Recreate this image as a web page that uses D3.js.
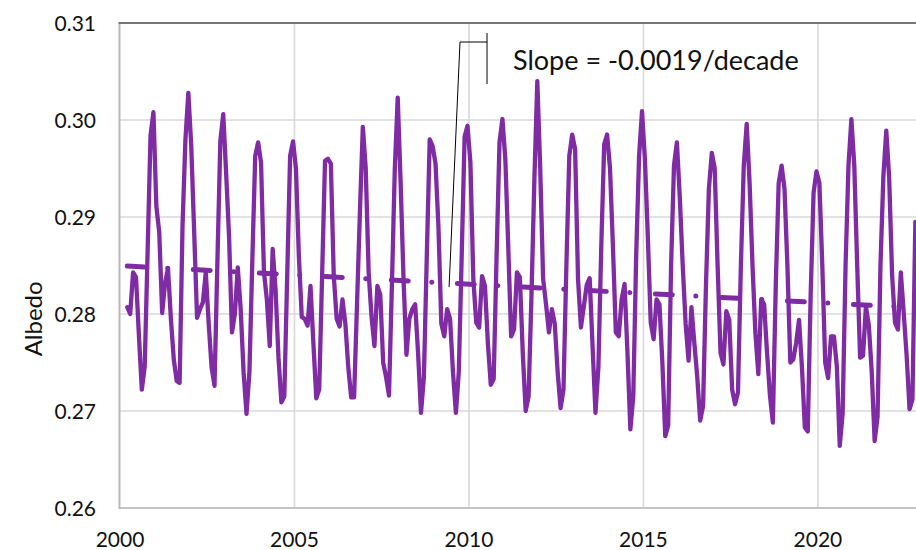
<!DOCTYPE html>
<html>
<head>
<meta charset="utf-8">
<script src="https://cdn.jsdelivr.net/npm/d3@7"></script>
<style>
  body { margin: 0; background: #fff; }
  text { font-family: Lato, "Open Sans", sans-serif; fill: #111; }
</style>
</head>
<body>
<svg id="svg" width="916" height="550"></svg>
<script>
// monthly albedo, starting March 2000 (mid-month dates)
var firstYear = 2000, firstMonth = 3;
var albedo = [
  // 2000 (Mar-Dec)
  .2807, .2800, .2843, .2838, .2778, .2722, .2746, .2865, .2984, .3008,
  // 2001
  .2911, .2884, .2801, .2832, .2847, .2795, .2753, .2731, .2729, .2891, .2980, .3028,
  // 2002
  .2973, .2885, .2796, .2805, .2812, .2843, .2790, .2745, .2726, .2855, .2978, .3006,
  // 2003
  .2945, .2880, .2781, .2800, .2848, .2805, .2740, .2697, .2740, .2855, .2963, .2977,
  // 2004
  .2956, .2843, .2815, .2767, .2867, .2825, .2755, .2709, .2715, .2840, .2963, .2978,
  // 2005
  .2950, .2860, .2797, .2795, .2788, .2829, .2770, .2713, .2722, .2840, .2958, .2960,
  // 2006
  .2955, .2840, .2795, .2787, .2815, .2790, .2745, .2714, .2714, .2810, .2905, .2993,
  // 2007
  .2950, .2843, .2797, .2767, .2829, .2820, .2750, .2735, .2716, .2830, .2950, .3023,
  // 2008
  .2935, .2836, .2758, .2795, .2805, .2810, .2760, .2698, .2735, .2860, .2980, .2973,
  // 2009
  .2955, .2890, .2790, .2777, .2805, .2795, .2740, .2698, .2740, .2860, .2983, .2994,
  // 2010
  .2956, .2836, .2791, .2786, .2839, .2829, .2770, .2727, .2733, .2860, .2977, .3001,
  // 2011
  .2960, .2870, .2777, .2784, .2843, .2838, .2760, .2700, .2715, .2820, .2939, .3040,
  // 2012
  .2950, .2836, .2810, .2781, .2805, .2790, .2740, .2703, .2722, .2850, .2963, .2985,
  // 2013
  .2970, .2836, .2786, .2808, .2830, .2837, .2767, .2698, .2745, .2870, .2975, .2985,
  // 2014
  .2950, .2870, .2781, .2777, .2815, .2831, .2760, .2681, .2715, .2860, .2963, .3009,
  // 2015
  .2960, .2880, .2791, .2774, .2815, .2810, .2750, .2674, .2685, .2850, .2953, .2977,
  // 2016
  .2920, .2850, .2790, .2752, .2807, .2770, .2735, .2690, .2705, .2830, .2929, .2966,
  // 2017
  .2950, .2850, .2760, .2748, .2803, .2794, .2722, .2707, .2719, .2850, .2953, .2996,
  // 2018
  .2935, .2850, .2780, .2738, .2815, .2810, .2760, .2716, .2688, .2830, .2935, .2953,
  // 2019
  .2929, .2850, .2750, .2753, .2770, .2794, .2745, .2683, .2679, .2820, .2925, .2947,
  // 2020
  .2935, .2850, .2750, .2734, .2777, .2777, .2746, .2664, .2698, .2850, .2953, .3001,
  // 2021
  .2953, .2850, .2755, .2757, .2808, .2788, .2740, .2669, .2694, .2850, .2942, .2989,
  // 2022 (Jan-Oct)
  .2940, .2840, .2791, .2784, .2843, .2801, .2757, .2702, .2712, .2895
];

// linear trend
var trendSlope = -0.0019;      // per decade
var trendAt2000 = 0.28498;
var trendLabel = "Slope = -0.0019/decade";

var xTicks = [2000, 2005, 2010, 2015, 2020];
var yTicks = [0.26, 0.27, 0.28, 0.29, 0.30, 0.31];
var xMax = 2022.81;
var yLabel = "Albedo";

var purple = "#7e2ba4";

var svg = d3.select("svg");
var width = 916, height = 550;
var m = { left: 120, right: 0, top: 23, bottom: 42 };

var x = d3.scaleLinear().domain([2000, xMax]).range([m.left, width - m.right]);
var y = d3.scaleLinear().domain([0.26, 0.31]).range([height - m.bottom, m.top]);

var series = albedo.map(function(v, i) {
  return { t: firstYear + (firstMonth - 1 + i + 0.5) / 12, v: v };
});

function trend(t) { return trendAt2000 + trendSlope / 10 * (t - 2000); }

svg.append("defs").append("clipPath").attr("id", "plot")
  .append("rect")
  .attr("x", m.left).attr("y", 0)
  .attr("width", width - m.left - m.right).attr("height", height - m.bottom + 4);

/// grid
svg.append("g").selectAll("line")
  .data(yTicks.filter(function(d) { return d > 0.265 && d < 0.305; }))
  .join("line")
  .attr("x1", m.left).attr("x2", width)
  .attr("y1", d => y(d)).attr("y2", d => y(d))
  .attr("stroke", "#d9d9d9").attr("stroke-width", 1.6);

svg.append("g").selectAll("line")
  .data(xTicks.slice(1))
  .join("line")
  .attr("x1", d => x(d)).attr("x2", d => x(d))
  .attr("y1", m.top).attr("y2", y(0.26))
  .attr("stroke", "#d9d9d9").attr("stroke-width", 1.6);

// bottom, left and top frame
svg.append("line")
  .attr("x1", m.left).attr("x2", width)
  .attr("y1", y(0.26)).attr("y2", y(0.26))
  .attr("stroke", "#c4c4c4").attr("stroke-width", 2);
svg.append("line")
  .attr("x1", m.left - 0.5).attr("x2", m.left - 0.5)
  .attr("y1", m.top).attr("y2", y(0.26) + 1)
  .attr("stroke", "#b8b8b8").attr("stroke-width", 2);
svg.append("line")
  .attr("x1", m.left - 1.5).attr("x2", width)
  .attr("y1", y(0.31)).attr("y2", y(0.31))
  .attr("stroke", "#777").attr("stroke-width", 2);

/// tick labels
svg.append("g").selectAll("text")
  .data(yTicks)
  .join("text")
  .attr("x", 96)
  .attr("y", d => y(d) + 8)
  .attr("text-anchor", "end")
  .style("font-size", "21px")
  .text(d => d3.format(".2f")(d));

svg.append("g").selectAll("text")
  .data(xTicks)
  .join("text")
  .attr("x", d => x(d))
  .attr("y", 547)
  .attr("text-anchor", "middle")
  .style("font-size", "21px")
  .text(d => d);

svg.append("text")
  .attr("transform", "translate(42," + y(0.2795) + ") rotate(-90)")
  .attr("text-anchor", "middle")
  .style("font-size", "24px")
  .text(yLabel);

/// data
var line = d3.line().x(d => x(d.t)).y(d => y(d.v));

var plot = svg.append("g").attr("clip-path", "url(#plot)");

plot.append("path")
  .datum(series)
  .attr("d", line)
  .attr("fill", "none")
  .attr("stroke", purple)
  .attr("stroke-width", 4.3)
  .attr("stroke-linejoin", "round")
  .attr("stroke-linecap", "round");

var t0 = series[0].t, t1 = series[series.length - 1].t;
plot.append("path")
  .datum([{ t: t0, v: trend(t0) }, { t: t1, v: trend(t1) }])
  .attr("d", line)
  .attr("fill", "none")
  .attr("stroke", purple)
  .attr("stroke-width", 5)
  .attr("stroke-linecap", "round")
  .attr("stroke-dasharray", "17,23.5,0.1,25.5");

/// slope label + leader
var ax = x(2009.43), ay = y(trend(2009.43)) + 4;
svg.append("path")
  .attr("d", "M" + ax + "," + ay + "L460,42L487,42M487,33L487,84")
  .attr("fill", "none")
  .attr("stroke", "#000")
  .attr("stroke-width", 1);

svg.append("text")
  .attr("x", 513)
  .attr("y", 70)
  .style("font-size", "27px")
  .text(trendLabel);
</script>
</body>
</html>
